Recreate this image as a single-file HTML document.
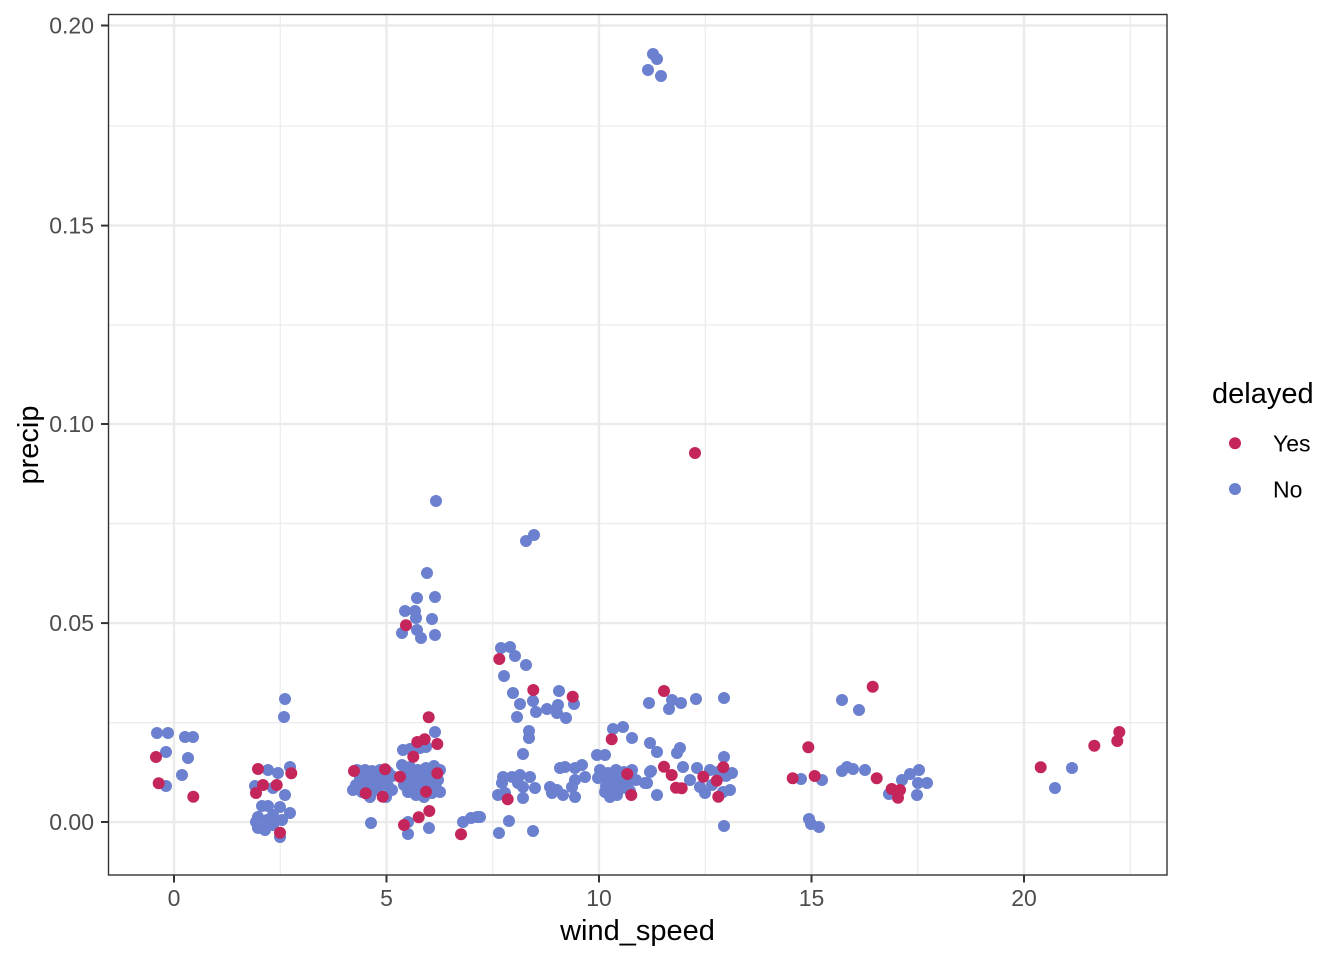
<!DOCTYPE html>
<html><head><meta charset="utf-8"><style>
html,body{margin:0;padding:0;background:#fff;}
svg{display:block;}
text{font-family:"Liberation Sans",Arial,sans-serif;}
</style></head><body>
<svg width="1344" height="960" viewBox="0 0 1344 960" xmlns="http://www.w3.org/2000/svg">
<rect x="0" y="0" width="1344" height="960" fill="#fff"/>
<!-- minor grid -->
<g stroke="#EBEBEB" stroke-width="1.2">
<line x1="280.25" y1="14.5" x2="280.25" y2="875"/>
<line x1="492.75" y1="14.5" x2="492.75" y2="875"/>
<line x1="705.25" y1="14.5" x2="705.25" y2="875"/>
<line x1="917.75" y1="14.5" x2="917.75" y2="875"/>
<line x1="1130.25" y1="14.5" x2="1130.25" y2="875"/>
<line x1="108.5" y1="722.6" x2="1167" y2="722.6"/>
<line x1="108.5" y1="523.5" x2="1167" y2="523.5"/>
<line x1="108.5" y1="324.9" x2="1167" y2="324.9"/>
<line x1="108.5" y1="126.2" x2="1167" y2="126.2"/>
</g>
<!-- major grid -->
<g stroke="#EBEBEB" stroke-width="2.4">
<line x1="174" y1="14.5" x2="174" y2="875"/>
<line x1="386.5" y1="14.5" x2="386.5" y2="875"/>
<line x1="599" y1="14.5" x2="599" y2="875"/>
<line x1="811.5" y1="14.5" x2="811.5" y2="875"/>
<line x1="1024" y1="14.5" x2="1024" y2="875"/>
<line x1="108.5" y1="822" x2="1167" y2="822"/>
<line x1="108.5" y1="623.1" x2="1167" y2="623.1"/>
<line x1="108.5" y1="424" x2="1167" y2="424"/>
<line x1="108.5" y1="225.6" x2="1167" y2="225.6"/>
<line x1="108.5" y1="25.5" x2="1167" y2="25.5"/>
</g>
<!-- blue points -->
<g fill="#6B80CF">
<circle cx="157" cy="733" r="6"/><circle cx="168" cy="733" r="6"/><circle cx="185" cy="737" r="6"/><circle cx="193" cy="737" r="6"/><circle cx="166" cy="752" r="6"/><circle cx="188" cy="758" r="6"/><circle cx="182" cy="775" r="6"/><circle cx="166" cy="786" r="6"/>
<circle cx="285" cy="699" r="6"/><circle cx="284" cy="717" r="6"/><circle cx="268" cy="770" r="6"/><circle cx="278" cy="773" r="6"/><circle cx="290" cy="767" r="6"/><circle cx="255" cy="786" r="6"/><circle cx="273" cy="788" r="6"/><circle cx="285" cy="795" r="6"/><circle cx="268" cy="806" r="6"/><circle cx="280" cy="807" r="6"/><circle cx="290" cy="813" r="6"/><circle cx="258" cy="817" r="6"/><circle cx="273" cy="815" r="6"/><circle cx="282" cy="820" r="6"/><circle cx="258" cy="828" r="6"/><circle cx="265" cy="830" r="6"/><circle cx="273" cy="825" r="6"/><circle cx="280" cy="837" r="6"/><circle cx="267" cy="820" r="6"/><circle cx="262" cy="806" r="6"/><circle cx="256" cy="822" r="6"/>
<circle cx="357" cy="770" r="6"/><circle cx="365" cy="770" r="6"/><circle cx="372" cy="771" r="6"/><circle cx="380" cy="770" r="6"/><circle cx="388" cy="772" r="6"/><circle cx="360" cy="778" r="6"/><circle cx="368" cy="780" r="6"/><circle cx="376" cy="778" r="6"/><circle cx="384" cy="779" r="6"/><circle cx="392" cy="776" r="6"/><circle cx="356" cy="785" r="6"/><circle cx="364" cy="786" r="6"/><circle cx="372" cy="785" r="6"/><circle cx="380" cy="786" r="6"/><circle cx="388" cy="786" r="6"/><circle cx="353" cy="790" r="6"/><circle cx="362" cy="792" r="6"/><circle cx="375" cy="790" r="6"/><circle cx="386" cy="797" r="6"/><circle cx="370" cy="797" r="6"/><circle cx="392" cy="790" r="6"/><circle cx="371" cy="823" r="6"/>
<circle cx="435" cy="732" r="6"/><circle cx="403" cy="750" r="6"/><circle cx="420" cy="748" r="6"/><circle cx="410" cy="749" r="6"/><circle cx="426" cy="747" r="6"/><circle cx="402" cy="765" r="6"/><circle cx="410" cy="767" r="6"/><circle cx="418" cy="770" r="6"/><circle cx="426" cy="768" r="6"/><circle cx="434" cy="766" r="6"/><circle cx="440" cy="770" r="6"/><circle cx="405" cy="775" r="6"/><circle cx="413" cy="778" r="6"/><circle cx="421" cy="776" r="6"/><circle cx="430" cy="777" r="6"/><circle cx="438" cy="780" r="6"/><circle cx="404" cy="785" r="6"/><circle cx="412" cy="787" r="6"/><circle cx="420" cy="786" r="6"/><circle cx="428" cy="783" r="6"/><circle cx="436" cy="788" r="6"/><circle cx="408" cy="792" r="6"/><circle cx="416" cy="795" r="6"/><circle cx="424" cy="797" r="6"/><circle cx="432" cy="793" r="6"/><circle cx="440" cy="792" r="6"/><circle cx="408" cy="822" r="6"/><circle cx="408" cy="834" r="6"/><circle cx="429" cy="828" r="6"/>
<circle cx="436" cy="501" r="6"/><circle cx="427" cy="573" r="6"/><circle cx="417" cy="598" r="6"/><circle cx="435" cy="597" r="6"/><circle cx="405" cy="611" r="6"/><circle cx="415" cy="611" r="6"/><circle cx="416" cy="618" r="6"/><circle cx="432" cy="619" r="6"/><circle cx="402" cy="633" r="6"/><circle cx="417" cy="630" r="6"/><circle cx="421" cy="638" r="6"/><circle cx="435" cy="635" r="6"/>
<circle cx="463" cy="822" r="6"/><circle cx="471" cy="818" r="6"/><circle cx="477" cy="817" r="6"/><circle cx="480" cy="817" r="6"/>
<circle cx="501" cy="648" r="6"/><circle cx="510" cy="647" r="6"/><circle cx="515" cy="656" r="6"/><circle cx="526" cy="665" r="6"/><circle cx="504" cy="676" r="6"/><circle cx="513" cy="693" r="6"/><circle cx="559" cy="691" r="6"/><circle cx="520" cy="704" r="6"/><circle cx="533" cy="701" r="6"/><circle cx="574" cy="704" r="6"/><circle cx="536" cy="712" r="6"/><circle cx="517" cy="717" r="6"/><circle cx="547" cy="709" r="6"/><circle cx="558" cy="705" r="6"/><circle cx="557" cy="713" r="6"/><circle cx="566" cy="718" r="6"/><circle cx="529" cy="731" r="6"/><circle cx="529" cy="738" r="6"/><circle cx="523" cy="754" r="6"/><circle cx="526" cy="541" r="6"/><circle cx="534" cy="535" r="6"/>
<circle cx="503" cy="777" r="6"/><circle cx="502" cy="783" r="6"/><circle cx="512" cy="777" r="6"/><circle cx="520" cy="775" r="6"/><circle cx="530" cy="777" r="6"/><circle cx="518" cy="783" r="6"/><circle cx="523" cy="787" r="6"/><circle cx="535" cy="788" r="6"/><circle cx="498" cy="795" r="6"/><circle cx="505" cy="793" r="6"/><circle cx="523" cy="798" r="6"/>
<circle cx="560" cy="768" r="6"/><circle cx="565" cy="767" r="6"/><circle cx="575" cy="768" r="6"/><circle cx="582" cy="765" r="6"/><circle cx="585" cy="777" r="6"/><circle cx="575" cy="780" r="6"/><circle cx="550" cy="787" r="6"/><circle cx="557" cy="790" r="6"/><circle cx="563" cy="795" r="6"/><circle cx="572" cy="787" r="6"/><circle cx="575" cy="797" r="6"/><circle cx="552" cy="793" r="6"/>
<circle cx="509" cy="821" r="6"/><circle cx="499" cy="833" r="6"/><circle cx="533" cy="831" r="6"/>
<circle cx="597" cy="755" r="6"/><circle cx="605" cy="755" r="6"/><circle cx="613" cy="729" r="6"/><circle cx="623" cy="727" r="6"/><circle cx="632" cy="738" r="6"/><circle cx="650" cy="743" r="6"/><circle cx="657" cy="752" r="6"/><circle cx="649" cy="703" r="6"/><circle cx="672" cy="700" r="6"/><circle cx="681" cy="703" r="6"/><circle cx="669" cy="709" r="6"/><circle cx="696" cy="699" r="6"/><circle cx="724" cy="698" r="6"/><circle cx="680" cy="748" r="6"/><circle cx="677" cy="753" r="6"/><circle cx="724" cy="757" r="6"/>
<circle cx="600" cy="770" r="6"/><circle cx="608" cy="773" r="6"/><circle cx="616" cy="770" r="6"/><circle cx="624" cy="772" r="6"/><circle cx="632" cy="770" r="6"/><circle cx="604" cy="778" r="6"/><circle cx="612" cy="781" r="6"/><circle cx="620" cy="779" r="6"/><circle cx="628" cy="783" r="6"/><circle cx="636" cy="780" r="6"/><circle cx="598" cy="778" r="6"/><circle cx="606" cy="786" r="6"/><circle cx="614" cy="790" r="6"/><circle cx="622" cy="788" r="6"/><circle cx="630" cy="791" r="6"/><circle cx="605" cy="792" r="6"/><circle cx="617" cy="795" r="6"/><circle cx="610" cy="797" r="6"/><circle cx="645" cy="783" r="6"/><circle cx="650" cy="772" r="6"/><circle cx="647" cy="783" r="6"/><circle cx="657" cy="795" r="6"/><circle cx="651" cy="771" r="6"/><circle cx="683" cy="767" r="6"/><circle cx="697" cy="768" r="6"/><circle cx="700" cy="787" r="6"/><circle cx="705" cy="793" r="6"/><circle cx="712" cy="785" r="6"/><circle cx="723" cy="792" r="6"/><circle cx="732" cy="773" r="6"/><circle cx="730" cy="790" r="6"/><circle cx="710" cy="770" r="6"/><circle cx="718" cy="772" r="6"/><circle cx="726" cy="776" r="6"/><circle cx="724" cy="826" r="6"/><circle cx="690" cy="780" r="6"/>
<circle cx="648" cy="70" r="6"/><circle cx="653" cy="54" r="6"/><circle cx="657" cy="59" r="6"/><circle cx="661" cy="76" r="6"/>
<circle cx="842" cy="700" r="6"/><circle cx="859" cy="710" r="6"/><circle cx="801" cy="779" r="6"/><circle cx="822" cy="780" r="6"/><circle cx="842" cy="771" r="6"/><circle cx="847" cy="767" r="6"/><circle cx="853" cy="769" r="6"/><circle cx="865" cy="770" r="6"/><circle cx="889" cy="794" r="6"/><circle cx="902" cy="780" r="6"/><circle cx="910" cy="774" r="6"/><circle cx="919" cy="770" r="6"/><circle cx="918" cy="783" r="6"/><circle cx="927" cy="783" r="6"/><circle cx="917" cy="795" r="6"/><circle cx="809" cy="819" r="6"/><circle cx="811" cy="824" r="6"/><circle cx="819" cy="827" r="6"/>
<circle cx="1072" cy="768" r="6"/><circle cx="1055" cy="788" r="6"/>
</g>
<!-- red points -->
<g fill="#C4265C">
<circle cx="156" cy="757" r="6"/><circle cx="158.7" cy="783.3" r="6"/><circle cx="193.3" cy="796.7" r="6"/>
<circle cx="258" cy="769" r="6"/><circle cx="291.3" cy="773.3" r="6"/><circle cx="263" cy="785" r="6"/><circle cx="256" cy="793" r="6"/><circle cx="276.7" cy="785" r="6"/><circle cx="280" cy="832.7" r="6"/>
<circle cx="354" cy="771" r="6"/><circle cx="385" cy="769.3" r="6"/><circle cx="365.7" cy="793.3" r="6"/><circle cx="382.7" cy="796.7" r="6"/>
<circle cx="428.7" cy="717.3" r="6"/><circle cx="417.3" cy="742" r="6"/><circle cx="424.7" cy="739.3" r="6"/><circle cx="437.3" cy="744" r="6"/><circle cx="413.3" cy="756.7" r="6"/><circle cx="437.3" cy="773.3" r="6"/><circle cx="426" cy="791.7" r="6"/><circle cx="400" cy="776.7" r="6"/><circle cx="404" cy="825" r="6"/><circle cx="418.7" cy="817.3" r="6"/><circle cx="429.3" cy="811" r="6"/><circle cx="461" cy="834.3" r="6"/>
<circle cx="406" cy="625.3" r="6"/>
<circle cx="499.3" cy="659" r="6"/><circle cx="533.3" cy="690" r="6"/><circle cx="572.7" cy="696.7" r="6"/><circle cx="507.7" cy="799.3" r="6"/>
<circle cx="611.7" cy="739.3" r="6"/><circle cx="664" cy="691" r="6"/><circle cx="627.3" cy="774" r="6"/><circle cx="631.3" cy="795" r="6"/><circle cx="664" cy="766.7" r="6"/><circle cx="671.7" cy="775" r="6"/><circle cx="676" cy="787.7" r="6"/><circle cx="681.7" cy="788.3" r="6"/><circle cx="723.3" cy="767.3" r="6"/><circle cx="703.3" cy="776.7" r="6"/><circle cx="716.7" cy="780.7" r="6"/><circle cx="718.3" cy="796.7" r="6"/>
<circle cx="695" cy="453" r="6"/>
<circle cx="872.7" cy="686.7" r="6"/><circle cx="808.3" cy="747.3" r="6"/><circle cx="792.7" cy="778.3" r="6"/><circle cx="814.7" cy="776" r="6"/><circle cx="876.7" cy="778.3" r="6"/><circle cx="891.7" cy="789" r="6"/><circle cx="900" cy="790" r="6"/><circle cx="898" cy="797.7" r="6"/>
<circle cx="1040.7" cy="767.3" r="6"/><circle cx="1094.3" cy="745.7" r="6"/><circle cx="1117.3" cy="741" r="6"/><circle cx="1119.3" cy="732" r="6"/>
</g>
<!-- panel border -->
<rect x="108.5" y="14.5" width="1058.5" height="860.5" fill="none" stroke="#333333" stroke-width="1.4"/>
<!-- ticks -->
<g stroke="#333333" stroke-width="2">
<line x1="101" y1="822" x2="108.5" y2="822"/>
<line x1="101" y1="623.1" x2="108.5" y2="623.1"/>
<line x1="101" y1="424" x2="108.5" y2="424"/>
<line x1="101" y1="225.6" x2="108.5" y2="225.6"/>
<line x1="101" y1="25.5" x2="108.5" y2="25.5"/>
<line x1="174" y1="875" x2="174" y2="882.5"/>
<line x1="386.5" y1="875" x2="386.5" y2="882.5"/>
<line x1="599" y1="875" x2="599" y2="882.5"/>
<line x1="811.5" y1="875" x2="811.5" y2="882.5"/>
<line x1="1024" y1="875" x2="1024" y2="882.5"/>
</g>
<g fill="#4D4D4D" font-size="23" text-anchor="end">
<text x="94" y="830">0.00</text>
<text x="94" y="631">0.05</text>
<text x="94" y="432">0.10</text>
<text x="94" y="233.6">0.15</text>
<text x="94" y="33.5">0.20</text>
</g>
<g fill="#4D4D4D" font-size="23" text-anchor="middle">
<text x="174" y="906">0</text>
<text x="386.5" y="906">5</text>
<text x="599" y="906">10</text>
<text x="811.5" y="906">15</text>
<text x="1024" y="906">20</text>
</g>
<text x="637.5" y="940" font-size="29" text-anchor="middle" fill="#000">wind_speed</text>
<text x="0" y="0" font-size="29" text-anchor="middle" fill="#000" transform="translate(38,445) rotate(-90)">precip</text>
<!-- legend -->
<text x="1212" y="403" font-size="29" fill="#000">delayed</text>
<circle cx="1235" cy="443.3" r="6" fill="#C4265C"/>
<circle cx="1235" cy="489" r="6" fill="#6B80CF"/>
<text x="1273" y="451.7" font-size="23" fill="#000">Yes</text>
<text x="1273" y="497.5" font-size="23" fill="#000">No</text>
</svg>
</body></html>
